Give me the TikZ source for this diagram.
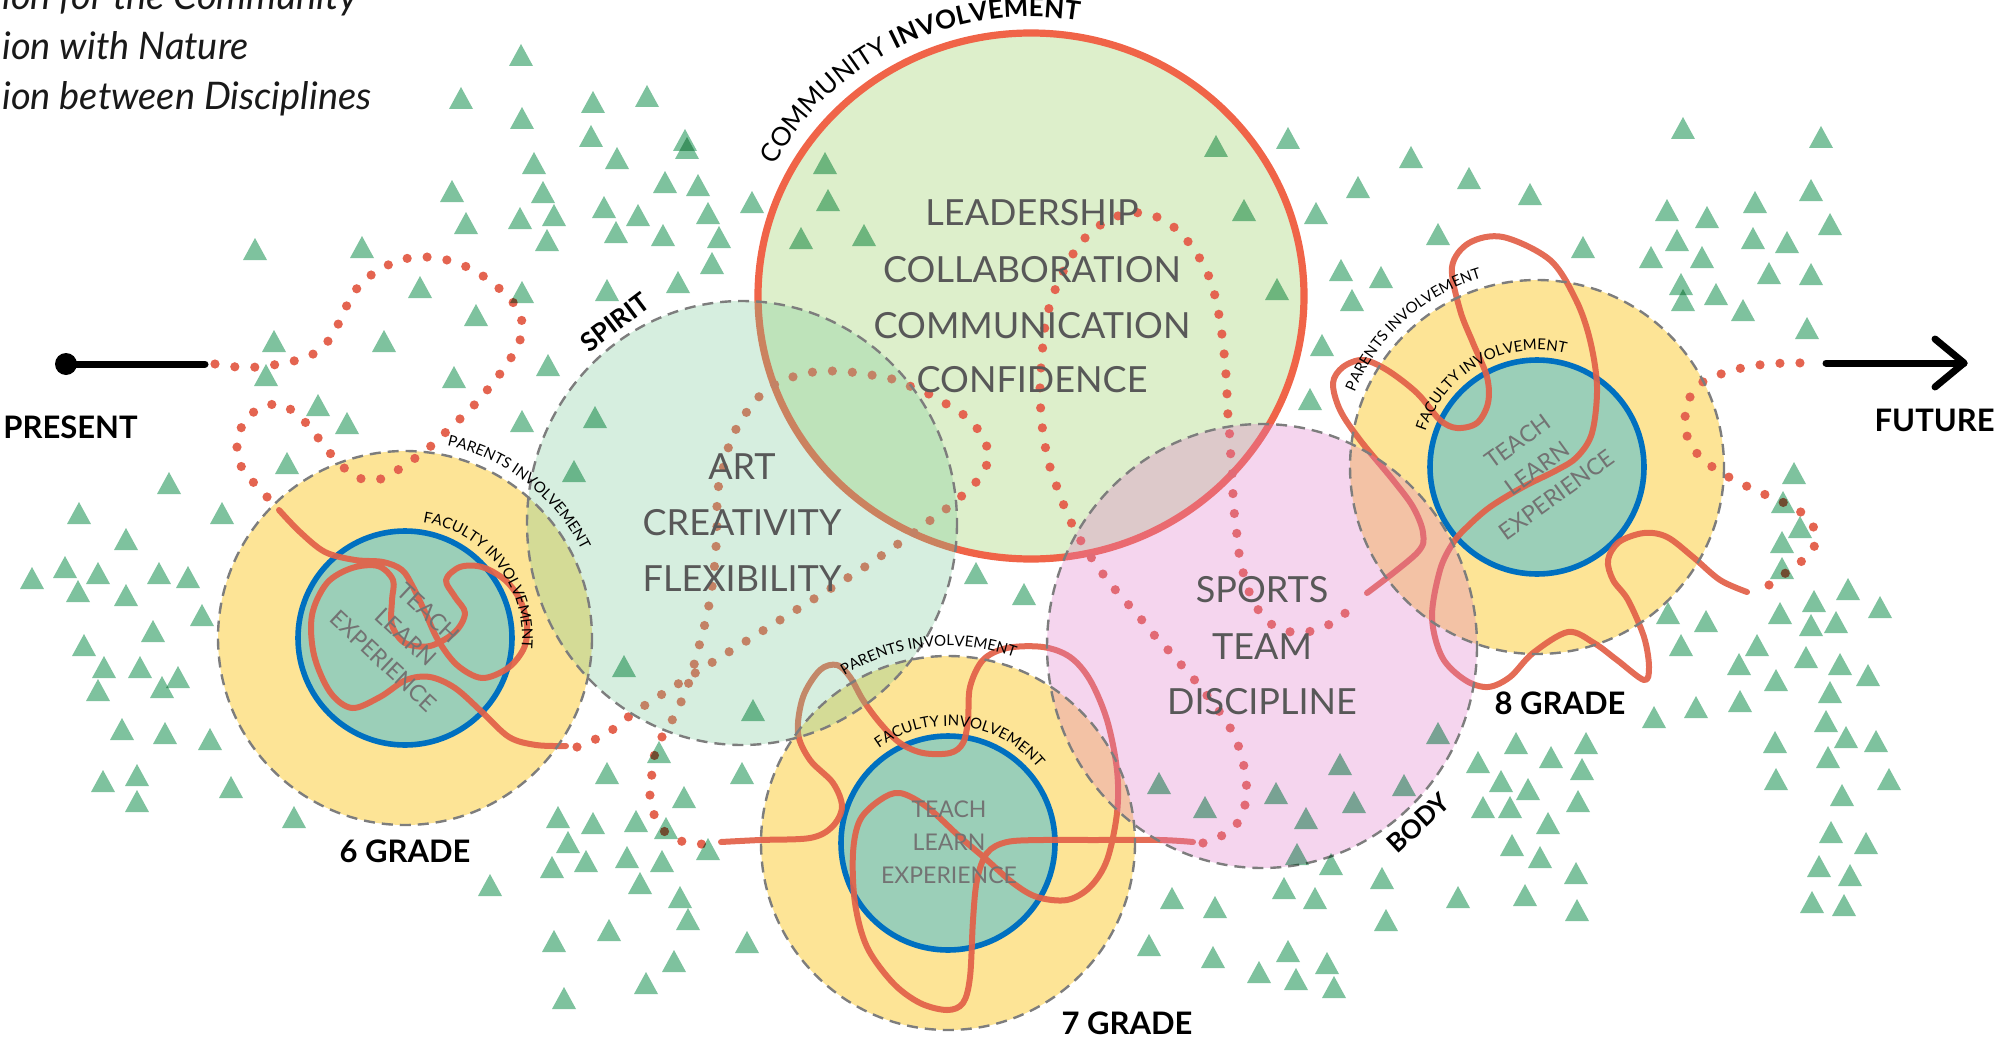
\documentclass[tikz,border=0pt]{standalone}
\usepackage{fontspec}
\setmainfont{Lato}
\usetikzlibrary{decorations.text}
\definecolor{trifill}{RGB}{126,194,158}
\definecolor{yel}{RGB}{253,228,150}
\definecolor{tealfill}{RGB}{155,207,184}
\definecolor{bluec}{RGB}{0,112,192}
\definecolor{comfill}{RGB}{221,239,203}
\definecolor{comline}{RGB}{240,100,72}
\definecolor{spiritc}{RGB}{120,200,150}
\definecolor{pinkc}{RGB}{223,121,200}
\definecolor{redl}{RGB}{226,96,72}
\definecolor{dotc}{RGB}{228,100,80}
\definecolor{txtgray}{RGB}{88,88,88}
\definecolor{dashg}{RGB}{125,125,125}
\tikzset{
  comring/.style={draw=comline,line width=3.6pt},
  bluering/.style={draw=bluec,line width=2.8pt,fill=tealfill},
  dashring/.style={draw=dashg,line width=1.2pt,dash pattern=on 5.5pt off 3.5pt},
  scribble/.style={draw=redl,line width=3pt,line cap=round,line join=round,opacity=0.92},
  dotline/.style={draw=dotc,line width=4.6pt,line cap=round,dash pattern=on 0pt off 10pt},
  biglbl/.style={text=txtgray,font=\fontsize{18}{20}\selectfont,inner sep=0pt},
  teachlbl/.style={text=black!55,font=\fontsize{11.5}{16.5}\selectfont,align=center,inner sep=0pt},
  gradelbl/.style={font=\bfseries\fontsize{15.5}{17}\selectfont,inner sep=0pt},
  sidelbl/.style={font=\bfseries\fontsize{13}{15}\selectfont,inner sep=0pt},
  toptxt/.style={font=\itshape\fontsize{19}{22}\selectfont,text=black!90,inner sep=0pt},
}
% center, x radius, y radius, start angle, end angle, font, text  (radii in picture pixels)
\newcommand\arclabel[7]{%
  \path[decorate,decoration={text along path,text align=center,text={|#6|#7}}]
    ([shift={(#4:#2*0.5pt and #3*0.5pt)}]#1) arc[start angle=#4,end angle=#5,x radius=#2*0.5pt,y radius=#3*0.5pt];%
}
\begin{document}
\begin{tikzpicture}[x=0.5pt,y=-0.5pt]
\useasboundingbox (0,0) rectangle (1997,1038);
\clip (0,0) rectangle (1997,1038);

\coordinate (com) at (1031,296);
\coordinate (spi) at (742,523);
\coordinate (bod) at (1262,646);
\coordinate (g6) at (405,638);
\coordinate (g7) at (948,843);
\coordinate (g8) at (1537,467);

% community circle
\fill[comfill] (com) ellipse[x radius=273,y radius=263];
\draw[comring] (com) ellipse[x radius=273,y radius=263];
% grade circles
\foreach \g in {g6,g7,g8} \fill[yel] (\g) circle[radius=187];
\foreach \g in {g6,g7,g8} \draw[bluering] (\g) circle[radius=107];

% ---- path: dotted from present
\draw[dotline] plot[smooth,tension=0.5] coordinates {(215,364) (237,367) (258,367) (279,364) (301,359) (320,350) (333,334) (343,314) (352,295) (366,279) (384,267) (404,259) (426,257) (447,260) (467,267) (486,278) (503,292) (517,308) (523,329) (516,349) (505,367) (492,384) (478,401) (462,417) (447,431) (431,446) (414,459) (396,471) (377,480) (356,477) (339,463) (325,447) (312,430) (297,414) (279,404) (258,409) (243,424) (237,445) (241,466) (254,483) (269,499)};
% 6 grade scribble
\draw[scribble] plot[smooth,tension=0.55] coordinates {(279,510) (300,532) (325,552) (355,560) (383,562) (402,570) (413,587) (425,612) (438,640) (457,665) (482,678) (508,668) (524,648) (527,625) (520,600) (505,580) (482,567) (460,567) (446,580) (455,597) (465,613) (455,632) (430,646) (405,643) (392,625) (392,600) (393,580) (378,566) (352,568) (327,583) (312,615) (314,655) (330,692) (352,708) (380,697) (406,680) (430,677) (455,688) (482,712) (509,737) (536,745) (566,746)};
% dotted through spirit
\draw[dotline] plot[smooth,tension=0.5] coordinates {(577,747) (598,738) (615,728) (632,714) (650,702) (700,670) (780,620) (860,570) (898,544) (915,532) (932,519) (950,506) (966,492) (981,476) (989,456) (982,436) (969,419) (951,407) (933,396) (912,387) (892,379) (871,375) (850,372) (828,371) (807,373) (787,379) (767,389) (752,405) (740,422) (730,442) (725,462) (719,483) (717,504) (717,525) (716,547) (713,580) (707,615) (698,650) (688,685) (675,715) (664,733) (655,753) (652,773) (650,797) (655,817) (666,833) (687,843) (708,844)};
% 7 grade scribble
\draw[scribble] plot[smooth,tension=0.55] coordinates {(721,842) (760,840) (810,838) (832,827) (842,807) (833,783) (810,760) (798,733) (803,697) (820,670) (837,665) (850,677) (863,700) (880,723) (900,743) (923,753) (950,753) (963,743) (968,720) (970,687) (983,660) (1007,648) (1043,647) (1070,657) (1090,680) (1107,720) (1117,770) (1117,813) (1107,860) (1090,887) (1067,900) (1037,897) (1013,883) (987,860) (960,837) (927,807) (900,793) (880,800) (860,820) (853,853) (855,903) (867,947) (893,983) (920,1003) (947,1010) (963,1003) (970,977) (973,920) (977,880) (987,853) (1007,842) (1043,840) (1093,840) (1160,840) (1193,842)};
% dotted through body and community
\draw[dotline] plot[smooth,tension=0.5] coordinates {(1203,843) (1223,835) (1239,821) (1246,800) (1246,779) (1242,758) (1235,737) (1224,718) (1212,702) (1198,684) (1184,668) (1170,652) (1155,636) (1141,619) (1127,603) (1113,587) (1100,570) (1085,548) (1070,520) (1058,490) (1048,460) (1042,425) (1040,390) (1042,355) (1046,320) (1055,290) (1068,262) (1085,238) (1105,222) (1128,213) (1152,215) (1175,228) (1193,248) (1207,272) (1216,300) (1222,335) (1226,375) (1228,417) (1230,439) (1231,461) (1233,482) (1233,503) (1236,525) (1238,547) (1242,568) (1248,589) (1257,608) (1271,624) (1291,632) (1312,631) (1332,623) (1349,610)};
% 8 grade scribble
\draw[scribble] plot[smooth,tension=0.55] coordinates {(1367,593) (1417,553) (1423,533) (1413,507) (1393,480) (1360,440) (1340,410) (1333,383) (1343,367) (1363,360) (1387,370) (1417,393) (1440,420) (1457,428) (1477,423) (1488,403) (1487,377) (1473,343) (1460,310) (1452,267) (1469,243) (1503,237) (1550,260) (1576,300) (1590,340) (1597,387) (1592,433) (1577,457) (1557,470) (1523,487) (1490,507) (1467,527) (1453,543) (1440,570) (1432,617) (1442,657) (1465,680) (1488,687) (1510,677) (1533,653) (1568,632) (1594,643) (1617,660) (1644,680) (1649,667) (1644,637) (1628,600) (1613,580) (1608,560) (1619,542) (1644,533) (1667,537) (1693,557) (1720,580) (1747,592)};
% dotted to future
\draw[dotline] plot[smooth,tension=0.5] coordinates {(1769,585) (1787,572) (1804,559) (1816,542) (1811,522) (1795,508) (1775,499) (1755,490) (1736,481) (1717,470) (1700,457) (1688,439) (1685,418) (1690,397) (1704,381) (1724,373) (1746,367) (1768,364) (1789,363) (1812,363)};

% spirit and body
\fill[spiritc,opacity=0.3] (spi) ellipse[x radius=215,y radius=222];
\fill[pinkc,opacity=0.314] (bod) ellipse[x radius=215,y radius=222];
\foreach \g in {g6,g7,g8} \draw[dashring] (\g) circle[radius=187];
\draw[dashring] (spi) ellipse[x radius=215,y radius=222];
\draw[dashring] (bod) ellipse[x radius=215,y radius=222];

% labels in circles
\node[biglbl] (l1) at (1032,213) {LEADERSHIP};
\node[biglbl] (l2) at (1032,270) {COLLABORATION};
\node[biglbl] (l3) at (1032,326) {COMMUNICATION};
\node[biglbl] (l4) at (1032,380) {CONFIDENCE};
\node[biglbl] (s1) at (742,467) {ART};
\node[biglbl] (s2) at (742,523) {CREATIVITY};
\node[biglbl] (s3) at (742,579) {FLEXIBILITY};
\node[biglbl] (b1) at (1262,590) {SPORTS};
\node[biglbl] (b2) at (1262,647) {TEAM};
\node[biglbl] (b3) at (1262,702) {DISCIPLINE};
\node[teachlbl,rotate=-43] (t6) at (406,637) {TEACH\\LEARN\\EXPERIENCE};
\node[teachlbl] (t7) at (949,842) {TEACH\\LEARN\\EXPERIENCE};
\node[teachlbl,rotate=36] (t8) at (1537,468) {TEACH\\LEARN\\EXPERIENCE};

% arc labels
\arclabel{g6}{197}{197}{97}{7}{\fontsize{7.5}{9}\selectfont}{PARENTS INVOLVEMENT}
\arclabel{g6}{117}{117}{97}{-21}{\fontsize{7.5}{9}\selectfont}{FACULTY INVOLVEMENT}
\arclabel{g7}{197}{197}{141}{51}{\fontsize{7.5}{9}\selectfont}{PARENTS INVOLVEMENT}
\arclabel{g7}{117}{117}{142}{24}{\fontsize{7.5}{9}\selectfont}{FACULTY INVOLVEMENT}
\arclabel{g8}{197}{197}{177}{87}{\fontsize{7.5}{9}\selectfont}{PARENTS INVOLVEMENT}
\arclabel{g8}{117}{117}{178}{60}{\fontsize{7.5}{9}\selectfont}{FACULTY INVOLVEMENT}
\arclabel{com}{290}{279}{161}{72}{\fontsize{13}{15}\selectfont}{COMMUNITY |\bfseries\fontsize{13}{15}\selectfont|INVOLVEMENT}

\node[sidelbl,rotate=37] (spl) at (615,322) {SPIRIT};
\node[sidelbl,rotate=43] (bdl) at (1418,823) {BODY};
\node[gradelbl] (gl6) at (405,851) {6 GRADE};
\node[gradelbl] (gl7) at (1127,1023) {7 GRADE};
\node[gradelbl] (gl8) at (1560,703) {8 GRADE};

% trees
\begin{scope}[blend mode=multiply]
\foreach \x/\y in {521/55, 461/98, 522/118, 593/102, 647/96, 591/136, 685/140, 452/191,
534/163, 617/158, 687/148, 543/192, 665/182, 698/185, 554/215, 604/207, 638/215, 708/213, 752/202, 520/218, 547/240, 616/232, 663/235, 719/237, 712/263, 678/282, 607/290, 522/292, 548/365, 595/417, 574/471, 522/421,
825/163, 828/200, 801/238, 864/235,
255/249, 362/247, 466/223, 274/341, 420/287, 476/315, 384/341, 266/375, 318/405, 347/423, 454/377, 287/463, 169/483, 79/513, 222/513,
126/539, 32/578, 65/567, 98/573, 78/591, 159/573, 188/577, 126/595, 202/615, 153/631, 84/645, 104/667, 140/667, 178/677, 162/687, 98/690, 122/729, 165/733, 210/739, 103/781, 137/775, 137/801, 231/787, 294/817,
558/817, 593/823, 568/842, 552/867, 586/861, 490/885,
753/710, 659/752, 607/773, 742/773, 684/797, 636/821, 666/828, 627/857, 662/861, 708/849, 640/883, 680/897, 688/919, 609/930, 554/941, 747/942, 674/961, 646/983, 564/998,
624/666, 976/573, 1024/594,
1172/898, 1215/907, 1149/945, 1213/957, 1284/888, 1315/898, 1288/951, 1327/963, 1259/972, 1296/979, 1334/987, 1331/864, 1382/878, 1386/920,
1159/783, 1205/807, 1276/793, 1340/764, 1306/818, 1354/802, 1297/854, 1404/785, 1438/733, 1478/762, 1483/807, 1310/399,
1794/473, 1783/502, 1800/527, 1782/542, 1782/568, 1848/589, 1814/601, 1880/607, 1780/613, 1811/625, 1836/622, 1668/613, 1706/621, 1681/645, 1757/645, 1739/664, 1806/657, 1840/664, 1868/675, 1776/680, 1830/692, 1740/701, 1696/707, 1654/717, 1826/721, 1846/737, 1876/741, 1775/742, 1828/757, 1776/779, 1889/779, 1842/795, 1831/832, 1866/843, 1819/866, 1850/875, 1812/902, 1844/905,
1516/743, 1586/743, 1551/757, 1582/769, 1501/781, 1528/789, 1510/807, 1578/801, 1548/823, 1512/845, 1540/857, 1576/873, 1458/897, 1525/895, 1577/910,
1683/128, 1821/137, 1411/157, 1358/187, 1469/178, 1530/194, 1316/213, 1438/234, 1583/247, 1667/210, 1707/217, 1755/202, 1811/190, 1830/224, 1677/240, 1651/257, 1702/257, 1753/238, 1787/242, 1769/273, 1811/274, 1681/284, 1683/300, 1716/294, 1743/310, 1807/328, 1341/270, 1381/277, 1352/300, 1322/345,
1288/138, 1216/146, 1244/210, 1277/289}
  \fill[trifill] (\x-12,\y+11) -- (\x,\y-11) -- (\x+12,\y+11) -- cycle;
\end{scope}

% present / future
\node[circle,fill=black,inner sep=0pt,minimum size=11pt] (pdot) at (66,364) {};
\coordinate (pend) at (205,364);
\draw[line width=3.5pt,line cap=round] (pdot.center) -- (pend);
\node[gradelbl,anchor=west] (ptxt) at (3,427) {PRESENT};
\coordinate (fs) at (1826,363);
\coordinate (fe) at (1964,363);
\coordinate (fb1) at (1935,339);
\coordinate (fb2) at (1935,387);
\draw[line width=3.5pt,line cap=round,line join=round] (fs) -- (fe);
\draw[line width=3.5pt,line cap=round,line join=round] (fb1) -- (fe) -- (fb2);
\node[gradelbl,anchor=east] (ftxt) at (1995,420) {FUTURE};

% top-left text
\node[toptxt,anchor=base west] (tt1) at (2,10) {ion for the Community};
\node[toptxt,anchor=base west] (tt2) at (2,60) {ion with Nature};
\node[toptxt,anchor=base west] (tt3) at (2,110) {ion between Disciplines};
\end{tikzpicture}
\end{document}
